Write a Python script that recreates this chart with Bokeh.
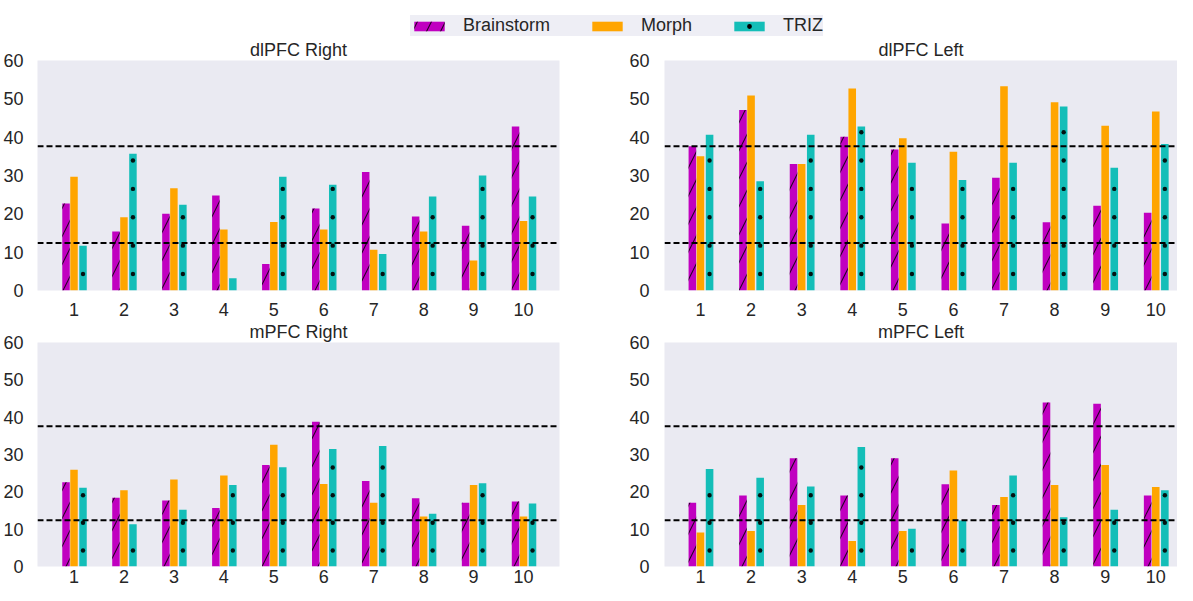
from bokeh.plotting import figure
from bokeh.models import ColumnDataSource, Range1d, Span, Legend, LegendItem
from bokeh.layouts import column, row
from bokeh.embed import file_html
from bokeh.resources import INLINE
from bokeh.transform import dodge

subjects = [1, 2, 3, 4, 5, 6, 7, 8, 9, 10]
series_names = ["Brainstorm", "Morph", "TRIZ"]
y_ticks = [0, 10, 20, 30, 40, 50, 60]
thresholds = [12.4, 37.6]

dlpfc_right_brainstorm = [22.7, 15.4, 20.0, 24.8, 6.9, 21.4, 30.9, 19.3, 16.9, 42.8]
dlpfc_right_morph = [29.7, 19.1, 26.7, 15.9, 17.9, 15.9, 10.6, 15.4, 7.8, 18.1]
dlpfc_right_triz = [11.7, 35.7, 22.4, 3.2, 29.7, 27.6, 9.5, 24.5, 30.0, 24.5]

dlpfc_left_brainstorm = [37.6, 47.1, 33.0, 40.1, 36.8, 17.5, 29.4, 17.8, 22.1, 20.3]
dlpfc_left_morph = [35.0, 50.9, 33.0, 52.7, 39.7, 36.2, 53.3, 49.1, 43.0, 46.7]
dlpfc_left_triz = [40.6, 28.5, 40.6, 42.8, 33.3, 28.8, 33.3, 48.0, 32.0, 38.2]

mpfc_right_brainstorm = [22.6, 18.4, 17.7, 15.7, 27.2, 38.8, 22.9, 18.3, 17.1, 17.4]
mpfc_right_morph = [25.9, 20.4, 23.3, 24.4, 32.6, 22.1, 17.1, 13.4, 21.8, 13.4]
mpfc_right_triz = [21.1, 11.3, 15.2, 21.8, 26.6, 31.5, 32.3, 14.1, 22.3, 16.9]

mpfc_left_brainstorm = [17.1, 19.0, 29.0, 19.0, 29.0, 22.0, 16.5, 43.9, 43.6, 19.0]
mpfc_left_morph = [9.1, 9.5, 16.5, 6.8, 9.5, 25.7, 18.6, 21.8, 27.2, 21.3]
mpfc_left_triz = [26.1, 23.8, 21.4, 32.0, 10.1, 12.3, 24.4, 13.2, 15.2, 20.4]

COLORS = ["#C000C0", "#FFA500", "#14BEB8"]
OFFSETS = [-0.16, 0.0, 0.18]
BAR_W = 0.15
FONT = "Liberation Sans"
TXT = "#262626"
BG = "#EAEAF2"
DOT_START = 4.3   # "." hatch texture rows (value units)
DOT_STEP = 7.4


def hatch_kw(i):
    if i == 0:
        return dict(hatch_pattern="right_diagonal_line", hatch_color="black",
                    hatch_alpha=0.8, hatch_scale=28, hatch_weight=1.1)
    return {}


def dot_texture(vals, offset):
    xs, ys = [], []
    for s, v in zip(subjects, vals):
        y = DOT_START
        while y < v - 1.0:
            xs.append(s + offset)
            ys.append(y)
            y += DOT_STEP
    return xs, ys


def make_panel(title, vals, width, height, x_start, x_end, mb_left, mb_right,
               mb_top, mb_bottom, title_offset, y_standoff, x_standoff):
    p = figure(width=width, height=height, output_backend="svg",
               toolbar_location=None, x_range=Range1d(x_start, x_end),
               y_range=Range1d(0, 60), min_border_left=mb_left,
               min_border_right=mb_right, min_border_top=mb_top,
               min_border_bottom=mb_bottom)
    p.title.text = title
    p.title.align = "center"
    p.title.text_font = FONT
    p.title.text_font_size = "18px"
    p.title.text_font_style = "normal"
    p.title.text_color = TXT
    p.title.offset = title_offset
    p.title.standoff = 2
    p.background_fill_color = BG
    p.border_fill_color = "white"
    p.outline_line_color = None
    p.xgrid.grid_line_color = None
    p.ygrid.grid_line_color = None
    src = ColumnDataSource(dict(x=subjects, b=vals[0], m=vals[1], t=vals[2]))
    for i, key in enumerate(["b", "m", "t"]):
        p.vbar(x=dodge("x", OFFSETS[i]), top=key, bottom=0, width=BAR_W,
               source=src, fill_color=COLORS[i], line_color=None, **hatch_kw(i))
    dx, dy = dot_texture(vals[2], OFFSETS[2])
    p.scatter(dx, dy, marker="circle", size=4.4, fill_color="black",
              line_color=None, fill_alpha=0.9)
    for th in thresholds:
        p.add_layout(Span(location=th, dimension="width", line_color="black",
                          line_width=2, line_dash="6 3"))
    for ax in (p.xaxis[0], p.yaxis[0]):
        ax.axis_line_color = None
        ax.major_tick_line_color = None
        ax.minor_tick_line_color = None
        ax.major_label_text_font = FONT
        ax.major_label_text_font_size = "18px"
        ax.major_label_text_color = TXT
    p.xaxis.ticker = subjects
    p.yaxis.ticker = y_ticks
    p.yaxis.major_label_standoff = y_standoff
    p.xaxis.major_label_standoff = x_standoff
    return p


# legend figure
leg = figure(width=1177, height=36, output_backend="svg", toolbar_location=None,
             x_range=Range1d(0, 1), y_range=Range1d(0, 1), min_border=0)
leg.axis.visible = False
leg.grid.visible = False
leg.outline_line_color = None
leg.background_fill_color = None
leg.border_fill_color = None
dummy = ColumnDataSource(dict(x=[0.5], top=[0.0]))
items = []
for i, name in enumerate(series_names):
    r = leg.vbar(x="x", top="top", bottom=0, width=0.001, source=dummy,
                 fill_color=COLORS[i], line_color=None, **hatch_kw(i))
    rends = [r]
    if i == 2:
        d = leg.scatter(x=[-5], y=[-5], marker="circle", size=4.4,
                        fill_color="black", line_color=None)
        rends.append(d)
    items.append(LegendItem(label=name, renderers=rends))
legend = Legend(items=items, orientation="horizontal", location=(410, 0),
                glyph_width=38, glyph_height=12, label_standoff=15, spacing=38,
                padding=8, margin=0, label_text_font=FONT, label_height=20,
                label_text_font_size="18px", label_text_color=TXT,
                background_fill_color="#EEEEF5", background_fill_alpha=1.0,
                border_line_color=None)
leg.add_layout(legend, "center")

p1 = make_panel("dlPFC Right",
                [dlpfc_right_brainstorm, dlpfc_right_morph, dlpfc_right_triz],
                592, 282, 0.269, 10.72, 30, 33, 24, 26, 0, 8, 6)
p2 = make_panel("dlPFC Left",
                [dlpfc_left_brainstorm, dlpfc_left_morph, dlpfc_left_triz],
                585, 282, 0.289, 10.43, 72, 0, 24, 26, 8, 9, 6)
p3 = make_panel("mPFC Right",
                [mpfc_right_brainstorm, mpfc_right_morph, mpfc_right_triz],
                592, 267, 0.269, 10.72, 30, 33, 24, 16, 0, 8, -3)
p4 = make_panel("mPFC Left",
                [mpfc_left_brainstorm, mpfc_left_morph, mpfc_left_triz],
                585, 267, 0.289, 10.43, 72, 0, 24, 16, 8, 9, -3)

layout = column(leg, row(p1, p2), row(p3, p4))
open("out.html", "w").write(file_html(layout, INLINE))
